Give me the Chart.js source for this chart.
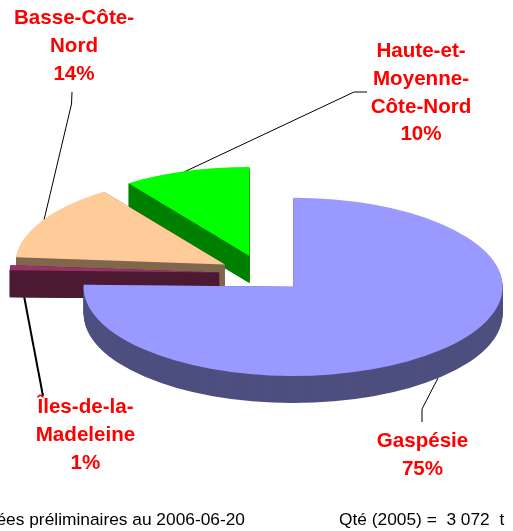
<!DOCTYPE html>
<html><head><meta charset="utf-8">
<style>html,body{margin:0;padding:0;background:#fff}canvas{display:block}</style>
<script src="https://cdn.jsdelivr.net/npm/chart.js@4"></script>
</head><body>
<canvas id="c" width="513" height="531"></canvas>
<script>
const categories = [["Gaspésie"], ["Îles-de-la-","Madeleine"], ["Basse-Côte-","Nord"], ["Haute-et-","Moyenne-","Côte-Nord"]];
const values = [75.4, 0.9, 13.9, 9.8];
const topColors = ["#9999FF", "#993366", "#FFCC99", "#00FF00"];
const sideColors = ["#4D4F7F", "#4C1933", "#7F664C", "#008000"];
const footerLeft = "Données préliminaires au 2006-06-20";
const footerRight = "Qté (2005) =  3 072  t";

const TILT = 0.425, DEPTH = 27, EXPLODE = 43.6, CENTER_Y = 273.6, RADIUS = 209.5;
const labelCenters = [[422.5,447],[85.5,413],[74,24],[421,57]];
const LINE_H = 27.8;
const leaders = [
  {w:1, pts:[[438,378],[422,409],[422,422]]},
  {w:2, pts:[[24,296],[43,396]]},
  {w:1, pts:[[72,92],[71.5,104],[44,220]]},
  {w:1, pts:[[367,92],[354,92],[184,172]]}
];

const pie3d = {
  id: 'pie3d',
  beforeDatasetDraw(chart, args) {
    const ctx = chart.ctx;
    const arcs = chart.getDatasetMeta(args.index).data;
    ctx.save();
    ctx.strokeStyle = '#000';
    leaders.forEach(l => {
      ctx.lineWidth = l.w;
      ctx.beginPath();
      l.pts.forEach((p, i) => i ? ctx.lineTo(p[0], p[1]) : ctx.moveTo(p[0], p[1]));
      ctx.stroke();
    });
    ctx.restore();
    for (let i = arcs.length - 1; i >= 0; i--) {
      const a = arcs[i];
      const mid = (a.startAngle + a.endAngle) / 2;
      const dx = Math.cos(mid) * EXPLODE, dy = Math.sin(mid) * EXPLODE;
      ctx.save();
      ctx.translate(0, CENTER_Y);
      ctx.scale(1, TILT);
      ctx.translate(dx, dy - a.y);
      ctx.fillStyle = sideColors[i];
      const off = DEPTH / TILT;
      for (let k = DEPTH; k >= 1; k--) {
        const o = k / TILT;
        ctx.beginPath();
        ctx.moveTo(a.x, a.y + o);
        ctx.arc(a.x, a.y + o, a.outerRadius, a.startAngle, a.endAngle);
        ctx.closePath();
        ctx.fill();
      }
      [a.startAngle, a.endAngle].forEach(t => {
        const rx = a.x + Math.cos(t) * a.outerRadius, ry = a.y + Math.sin(t) * a.outerRadius;
        ctx.beginPath();
        ctx.moveTo(a.x, a.y);
        ctx.lineTo(rx, ry);
        ctx.lineTo(rx, ry + off);
        ctx.lineTo(a.x, a.y + off);
        ctx.closePath();
        ctx.fill();
      });
      a.draw(ctx);
      ctx.restore();
    }
    return false;
  },
  afterDraw(chart) {
    const ctx = chart.ctx;
    ctx.save();
    ctx.fillStyle = '#FF0000';
    ctx.textAlign = 'center';
    ctx.textBaseline = 'alphabetic';
    ctx.font = 'bold 20.6px "Liberation Sans", Arial, sans-serif';
    categories.forEach((lines, i) => {
      const all = lines.concat(Math.round(values[i]) + '%');
      all.forEach((t, j) => ctx.fillText(t, labelCenters[i][0], labelCenters[i][1] + j * LINE_H));
    });
    ctx.fillStyle = '#000';
    ctx.font = '17.33px "Liberation Sans", Arial, sans-serif';
    ctx.textAlign = 'right';
    ctx.fillText(footerLeft, 245, 525);
    ctx.textAlign = 'left';
    ctx.fillText(footerRight, 339, 525);
    ctx.restore();
  }
};

new Chart(document.getElementById('c'), {
  type: 'pie',
  data: {
    labels: categories.map(c => c.join(' ')),
    datasets: [{ data: values, backgroundColor: topColors, borderWidth: 0, clip: false }]
  },
  options: {
    responsive: false,
    animation: false,
    radius: RADIUS,
    layout: { padding: { left: 12.4 } },
    plugins: { legend: { display: false }, tooltip: { enabled: false } }
  },
  plugins: [pie3d]
});
</script>
</body></html>
